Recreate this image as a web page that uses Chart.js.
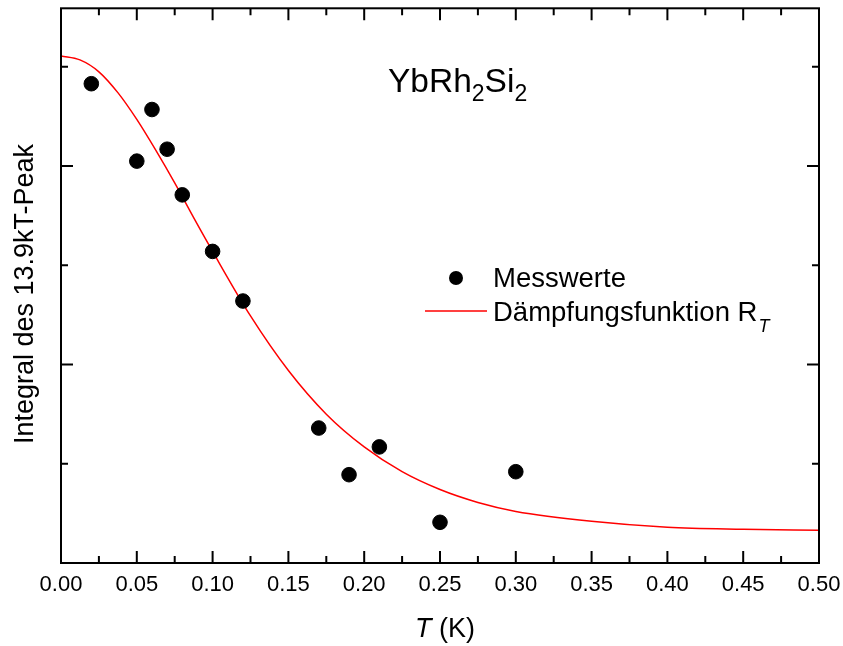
<!DOCTYPE html>
<html><head><meta charset="utf-8">
<script src="https://cdn.jsdelivr.net/npm/chart.js@4/dist/chart.umd.min.js"></script>
<style>html,body{margin:0;padding:0;background:#fff}</style>
</head><body>
<canvas id="c" width="843" height="646"></canvas>
<script>
// Measured points
const temps = [0.02, 0.05, 0.06, 0.07, 0.08, 0.10, 0.12, 0.17, 0.19, 0.21, 0.25, 0.30];
const integrals = [4.83, 4.05, 4.57, 4.17, 3.71, 3.14, 2.64, 1.36, 0.89, 1.17, 0.41, 0.92];
// Damping function curve
const fitTemps = [0, 0.0125, 0.025, 0.0375, 0.05, 0.0625, 0.075, 0.0875, 0.10, 0.125, 0.15, 0.175, 0.20, 0.225, 0.25, 0.275, 0.30, 0.35, 0.40, 0.45, 0.50];
const fitValues = [5.11, 5.07, 4.95, 4.74, 4.47, 4.16, 3.83, 3.48, 3.14, 2.49, 1.94, 1.50, 1.17, 0.92, 0.74, 0.61, 0.52, 0.42, 0.36, 0.34, 0.33];
// Tick labels
const xTickLabels = ['0.00','0.05','0.10','0.15','0.20','0.25','0.30','0.35','0.40','0.45','0.50'];
const yMajorTicks = [2, 4];
const yMinorTicks = [1, 3, 5];
// Texts
const titleParts = ['YbRh', '2', 'Si', '2'];
const legendLabels = ['Messwerte', 'Dämpfungsfunktion R'];
const legendSub = 'T';
const xTitleParts = ['T', ' (K)'];
const yTitle = 'Integral des 13.9kT-Peak';

const FONT = "'Liberation Sans', Arial, sans-serif";

const decor = {
  id: 'decor',
  afterDraw(chart) {
    const ctx = chart.ctx, a = chart.chartArea, xs = chart.scales.x, ys = chart.scales.y;
    ctx.save();
    ctx.strokeStyle = '#000';
    ctx.lineWidth = 2;
    ctx.strokeRect(a.left, a.top, a.right - a.left, a.bottom - a.top);
    ctx.beginPath();
    const xt = xs.ticks.map(t => t.value);
    xt.forEach((v, i) => {
      const p = xs.getPixelForValue(v);
      if (i > 0 && i < xt.length - 1) {
        ctx.moveTo(p, a.bottom); ctx.lineTo(p, a.bottom - 12);
        ctx.moveTo(p, a.top); ctx.lineTo(p, a.top + 12);
      }
      if (i < xt.length - 1) {
        const q = xs.getPixelForValue((v + xt[i + 1]) / 2);
        ctx.moveTo(q, a.bottom); ctx.lineTo(q, a.bottom - 7);
        ctx.moveTo(q, a.top); ctx.lineTo(q, a.top + 7);
      }
    });
    yMajorTicks.forEach(v => {
      const p = ys.getPixelForValue(v);
      ctx.moveTo(a.left, p); ctx.lineTo(a.left + 12, p);
      ctx.moveTo(a.right, p); ctx.lineTo(a.right - 12, p);
    });
    yMinorTicks.forEach(v => {
      const p = ys.getPixelForValue(v);
      ctx.moveTo(a.left, p); ctx.lineTo(a.left + 7, p);
      ctx.moveTo(a.right, p); ctx.lineTo(a.right - 7, p);
    });
    ctx.stroke();

    ctx.fillStyle = '#000';
    ctx.textBaseline = 'alphabetic';
    ctx.textAlign = 'left';
    // Title with subscripts
    let x = 388;
    titleParts.forEach((t, i) => {
      const sub = i % 2 === 1;
      ctx.font = (sub ? '23px ' : '33.5px ') + FONT;
      ctx.fillText(t, x, sub ? 101 : 92);
      x += ctx.measureText(t).width;
    });
    // Legend
    ctx.beginPath();
    ctx.arc(456, 278, 7, 0, Math.PI * 2);
    ctx.fill();
    ctx.font = '27.5px ' + FONT;
    ctx.fillText(legendLabels[0], 493, 287);
    ctx.strokeStyle = '#ff0000';
    ctx.lineWidth = 1.5;
    ctx.beginPath();
    ctx.moveTo(425, 311); ctx.lineTo(487, 311);
    ctx.stroke();
    ctx.fillText(legendLabels[1], 493, 321);
    const w = ctx.measureText(legendLabels[1]).width;
    ctx.font = 'italic 18px ' + FONT;
    ctx.fillText(legendSub, 493 + w + 1, 332);
    // X title
    ctx.font = 'italic 27px ' + FONT;
    const w1 = ctx.measureText(xTitleParts[0]).width;
    ctx.font = '27px ' + FONT;
    const w2 = ctx.measureText(xTitleParts[1]).width;
    const xs0 = (a.left + a.right) / 2 + 5 - (w1 + w2) / 2;
    ctx.font = 'italic 27px ' + FONT;
    ctx.fillText(xTitleParts[0], xs0, 637);
    ctx.font = '27px ' + FONT;
    ctx.fillText(xTitleParts[1], xs0 + w1, 637);
    // Y title
    ctx.save();
    ctx.translate(33, 294);
    ctx.rotate(-Math.PI / 2);
    ctx.textAlign = 'center';
    ctx.fillText(yTitle, 0, 0);
    ctx.restore();
    ctx.restore();
  }
};

new Chart(document.getElementById('c'), {
  type: 'scatter',
  data: {
    datasets: [
      {
        label: legendLabels[0],
        data: temps.map((t, i) => ({x: t, y: integrals[i]})),
        backgroundColor: '#000', borderColor: '#000',
        pointRadius: 7.3, pointHoverRadius: 7.3, showLine: false, order: 1
      },
      {
        label: legendLabels[1],
        data: fitTemps.map((t, i) => ({x: t, y: fitValues[i]})),
        borderColor: '#ff0000', borderWidth: 1.5, pointRadius: 0,
        showLine: true, cubicInterpolationMode: 'monotone', fill: false, order: 2
      }
    ]
  },
  options: {
    responsive: false,
    animation: false,
    layout: {padding: {top: 4, right: 24, left: 0, bottom: 0}},
    plugins: {legend: {display: false}, tooltip: {enabled: false}},
    scales: {
      x: {
        type: 'linear', min: 0, max: 0.5,
        grid: {display: false, drawTicks: false},
        border: {display: false},
        ticks: {
          stepSize: 0.05, padding: 9, color: '#000',
          font: {size: 22, family: FONT},
          maxRotation: 0, autoSkip: false,
          callback: (v, i) => xTickLabels[i]
        },
        afterFit: s => { s.height = 83; s.paddingLeft = 0; s.paddingRight = 0; }
      },
      y: {
        type: 'linear', min: 0, max: 5.59,
        grid: {display: false, drawTicks: false},
        border: {display: false},
        ticks: {display: false, stepSize: 1},
        afterFit: s => { s.width = 61; s.paddingTop = 0; s.paddingBottom = 0; }
      }
    }
  },
  plugins: [decor]
});
</script>
</body></html>
